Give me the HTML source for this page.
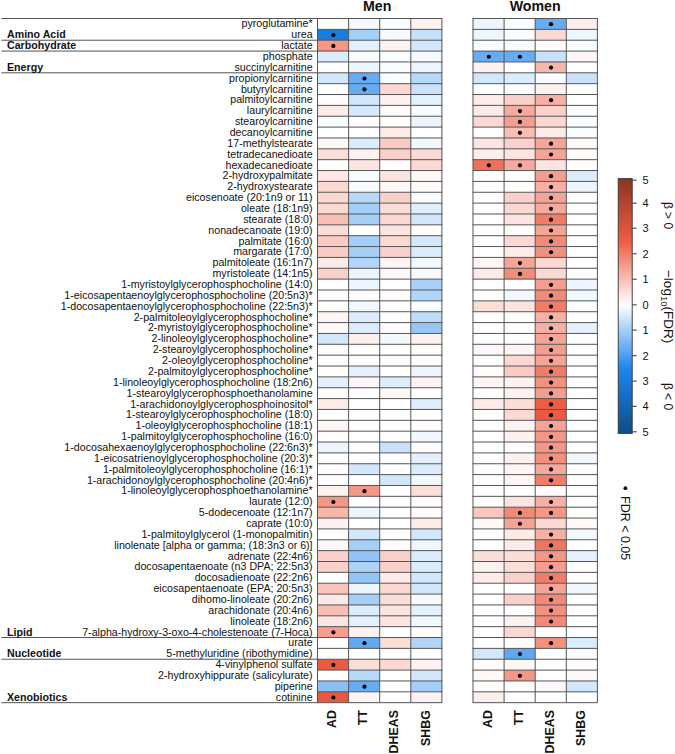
<!DOCTYPE html>
<html><head><meta charset="utf-8"><style>
html,body{margin:0;padding:0;background:#fff;width:675px;height:754px;overflow:hidden}
svg{display:block;font-family:"Liberation Sans",sans-serif;fill:#000}
text{fill:#111}
</style></head><body>
<svg width="675" height="754" viewBox="0 0 675 754">
<rect x="317.50" y="18.50" width="31.10" height="10.86" fill="#ffffff"/>
<rect x="348.60" y="18.50" width="31.10" height="10.86" fill="#f6fafe"/>
<rect x="379.70" y="18.50" width="31.10" height="10.86" fill="#fafdff"/>
<rect x="410.80" y="18.50" width="31.10" height="10.86" fill="#fef2f0"/>
<rect x="473.00" y="18.50" width="31.10" height="10.86" fill="#edf5fe"/>
<rect x="504.10" y="18.50" width="31.10" height="10.86" fill="#fafdff"/>
<rect x="535.20" y="18.50" width="31.10" height="10.86" fill="#65adf3"/>
<rect x="566.30" y="18.50" width="31.10" height="10.86" fill="#fdefec"/>
<rect x="317.50" y="29.36" width="31.10" height="10.86" fill="#1a7dde"/>
<rect x="348.60" y="29.36" width="31.10" height="10.86" fill="#a4cff8"/>
<rect x="379.70" y="29.36" width="31.10" height="10.86" fill="#f6fafe"/>
<rect x="410.80" y="29.36" width="31.10" height="10.86" fill="#c4e0fb"/>
<rect x="473.00" y="29.36" width="31.10" height="10.86" fill="#edf5fe"/>
<rect x="504.10" y="29.36" width="31.10" height="10.86" fill="#fafdff"/>
<rect x="535.20" y="29.36" width="31.10" height="10.86" fill="#fbd8d2"/>
<rect x="566.30" y="29.36" width="31.10" height="10.86" fill="#edf5fe"/>
<rect x="317.50" y="40.22" width="31.10" height="10.86" fill="#f49786"/>
<rect x="348.60" y="40.22" width="31.10" height="10.86" fill="#e4f0fd"/>
<rect x="379.70" y="40.22" width="31.10" height="10.86" fill="#fef2f0"/>
<rect x="410.80" y="40.22" width="31.10" height="10.86" fill="#d2e7fc"/>
<rect x="473.00" y="40.22" width="31.10" height="10.86" fill="#fafdff"/>
<rect x="504.10" y="40.22" width="31.10" height="10.86" fill="#fafdff"/>
<rect x="535.20" y="40.22" width="31.10" height="10.86" fill="#fffcfb"/>
<rect x="566.30" y="40.22" width="31.10" height="10.86" fill="#fafdff"/>
<rect x="317.50" y="51.08" width="31.10" height="10.86" fill="#dbecfc"/>
<rect x="348.60" y="51.08" width="31.10" height="10.86" fill="#fafdff"/>
<rect x="379.70" y="51.08" width="31.10" height="10.86" fill="#fafdff"/>
<rect x="410.80" y="51.08" width="31.10" height="10.86" fill="#f6fafe"/>
<rect x="473.00" y="51.08" width="31.10" height="10.86" fill="#65adf3"/>
<rect x="504.10" y="51.08" width="31.10" height="10.86" fill="#65adf3"/>
<rect x="535.20" y="51.08" width="31.10" height="10.86" fill="#c9e2fb"/>
<rect x="566.30" y="51.08" width="31.10" height="10.86" fill="#fef5f4"/>
<rect x="317.50" y="61.94" width="31.10" height="10.86" fill="#ffffff"/>
<rect x="348.60" y="61.94" width="31.10" height="10.86" fill="#edf5fe"/>
<rect x="379.70" y="61.94" width="31.10" height="10.86" fill="#fafdff"/>
<rect x="410.80" y="61.94" width="31.10" height="10.86" fill="#edf5fe"/>
<rect x="473.00" y="61.94" width="31.10" height="10.86" fill="#fef2f0"/>
<rect x="504.10" y="61.94" width="31.10" height="10.86" fill="#ffffff"/>
<rect x="535.20" y="61.94" width="31.10" height="10.86" fill="#f8b7ac"/>
<rect x="566.30" y="61.94" width="31.10" height="10.86" fill="#ffffff"/>
<rect x="317.50" y="72.80" width="31.10" height="10.86" fill="#d2e7fc"/>
<rect x="348.60" y="72.80" width="31.10" height="10.86" fill="#65adf3"/>
<rect x="379.70" y="72.80" width="31.10" height="10.86" fill="#fafdff"/>
<rect x="410.80" y="72.80" width="31.10" height="10.86" fill="#b6d8fa"/>
<rect x="473.00" y="72.80" width="31.10" height="10.86" fill="#d2e7fc"/>
<rect x="504.10" y="72.80" width="31.10" height="10.86" fill="#dbecfc"/>
<rect x="535.20" y="72.80" width="31.10" height="10.86" fill="#fafdff"/>
<rect x="566.30" y="72.80" width="31.10" height="10.86" fill="#c9e2fb"/>
<rect x="317.50" y="83.66" width="31.10" height="10.86" fill="#ffffff"/>
<rect x="348.60" y="83.66" width="31.10" height="10.86" fill="#65adf3"/>
<rect x="379.70" y="83.66" width="31.10" height="10.86" fill="#fbd8d2"/>
<rect x="410.80" y="83.66" width="31.10" height="10.86" fill="#c9e2fb"/>
<rect x="473.00" y="83.66" width="31.10" height="10.86" fill="#ffffff"/>
<rect x="504.10" y="83.66" width="31.10" height="10.86" fill="#fafdff"/>
<rect x="535.20" y="83.66" width="31.10" height="10.86" fill="#fef2f0"/>
<rect x="566.30" y="83.66" width="31.10" height="10.86" fill="#ffffff"/>
<rect x="317.50" y="94.52" width="31.10" height="10.86" fill="#fffcfb"/>
<rect x="348.60" y="94.52" width="31.10" height="10.86" fill="#d2e7fc"/>
<rect x="379.70" y="94.52" width="31.10" height="10.86" fill="#fef2f0"/>
<rect x="410.80" y="94.52" width="31.10" height="10.86" fill="#e4f0fd"/>
<rect x="473.00" y="94.52" width="31.10" height="10.86" fill="#fdebe8"/>
<rect x="504.10" y="94.52" width="31.10" height="10.86" fill="#fad1ca"/>
<rect x="535.20" y="94.52" width="31.10" height="10.86" fill="#f7b1a4"/>
<rect x="566.30" y="94.52" width="31.10" height="10.86" fill="#ffffff"/>
<rect x="317.50" y="105.38" width="31.10" height="10.86" fill="#fdebe8"/>
<rect x="348.60" y="105.38" width="31.10" height="10.86" fill="#d6e9fc"/>
<rect x="379.70" y="105.38" width="31.10" height="10.86" fill="#fffcfb"/>
<rect x="410.80" y="105.38" width="31.10" height="10.86" fill="#fafdff"/>
<rect x="473.00" y="105.38" width="31.10" height="10.86" fill="#fdebe8"/>
<rect x="504.10" y="105.38" width="31.10" height="10.86" fill="#f6aa9d"/>
<rect x="535.20" y="105.38" width="31.10" height="10.86" fill="#fad1ca"/>
<rect x="566.30" y="105.38" width="31.10" height="10.86" fill="#fafdff"/>
<rect x="317.50" y="116.24" width="31.10" height="10.86" fill="#fafdff"/>
<rect x="348.60" y="116.24" width="31.10" height="10.86" fill="#ffffff"/>
<rect x="379.70" y="116.24" width="31.10" height="10.86" fill="#ffffff"/>
<rect x="410.80" y="116.24" width="31.10" height="10.86" fill="#edf5fe"/>
<rect x="473.00" y="116.24" width="31.10" height="10.86" fill="#fbd8d2"/>
<rect x="504.10" y="116.24" width="31.10" height="10.86" fill="#f59d8e"/>
<rect x="535.20" y="116.24" width="31.10" height="10.86" fill="#fbd8d2"/>
<rect x="566.30" y="116.24" width="31.10" height="10.86" fill="#fafdff"/>
<rect x="317.50" y="127.10" width="31.10" height="10.86" fill="#ffffff"/>
<rect x="348.60" y="127.10" width="31.10" height="10.86" fill="#ffffff"/>
<rect x="379.70" y="127.10" width="31.10" height="10.86" fill="#fdebe8"/>
<rect x="410.80" y="127.10" width="31.10" height="10.86" fill="#ffffff"/>
<rect x="473.00" y="127.10" width="31.10" height="10.86" fill="#ffffff"/>
<rect x="504.10" y="127.10" width="31.10" height="10.86" fill="#f8beb3"/>
<rect x="535.20" y="127.10" width="31.10" height="10.86" fill="#fdebe8"/>
<rect x="566.30" y="127.10" width="31.10" height="10.86" fill="#fafdff"/>
<rect x="317.50" y="137.96" width="31.10" height="10.86" fill="#fef8f7"/>
<rect x="348.60" y="137.96" width="31.10" height="10.86" fill="#dbecfc"/>
<rect x="379.70" y="137.96" width="31.10" height="10.86" fill="#facbc3"/>
<rect x="410.80" y="137.96" width="31.10" height="10.86" fill="#f1f8fe"/>
<rect x="473.00" y="137.96" width="31.10" height="10.86" fill="#fce5e1"/>
<rect x="504.10" y="137.96" width="31.10" height="10.86" fill="#fad1ca"/>
<rect x="535.20" y="137.96" width="31.10" height="10.86" fill="#f5a495"/>
<rect x="566.30" y="137.96" width="31.10" height="10.86" fill="#fef8f7"/>
<rect x="317.50" y="148.82" width="31.10" height="10.86" fill="#fcded9"/>
<rect x="348.60" y="148.82" width="31.10" height="10.86" fill="#fef2f0"/>
<rect x="379.70" y="148.82" width="31.10" height="10.86" fill="#fad1ca"/>
<rect x="410.80" y="148.82" width="31.10" height="10.86" fill="#fbdbd5"/>
<rect x="473.00" y="148.82" width="31.10" height="10.86" fill="#fdefec"/>
<rect x="504.10" y="148.82" width="31.10" height="10.86" fill="#fce5e1"/>
<rect x="535.20" y="148.82" width="31.10" height="10.86" fill="#f5a495"/>
<rect x="566.30" y="148.82" width="31.10" height="10.86" fill="#fffcfb"/>
<rect x="317.50" y="159.68" width="31.10" height="10.86" fill="#ffffff"/>
<rect x="348.60" y="159.68" width="31.10" height="10.86" fill="#fce5e1"/>
<rect x="379.70" y="159.68" width="31.10" height="10.86" fill="#fffcfb"/>
<rect x="410.80" y="159.68" width="31.10" height="10.86" fill="#fbd8d2"/>
<rect x="473.00" y="159.68" width="31.10" height="10.86" fill="#f07059"/>
<rect x="504.10" y="159.68" width="31.10" height="10.86" fill="#f6aa9d"/>
<rect x="535.20" y="159.68" width="31.10" height="10.86" fill="#fce5e1"/>
<rect x="566.30" y="159.68" width="31.10" height="10.86" fill="#ffffff"/>
<rect x="317.50" y="170.54" width="31.10" height="10.86" fill="#fde8e5"/>
<rect x="348.60" y="170.54" width="31.10" height="10.86" fill="#fafdff"/>
<rect x="379.70" y="170.54" width="31.10" height="10.86" fill="#fce5e1"/>
<rect x="410.80" y="170.54" width="31.10" height="10.86" fill="#fef8f7"/>
<rect x="473.00" y="170.54" width="31.10" height="10.86" fill="#ffffff"/>
<rect x="504.10" y="170.54" width="31.10" height="10.86" fill="#ffffff"/>
<rect x="535.20" y="170.54" width="31.10" height="10.86" fill="#f59d8e"/>
<rect x="566.30" y="170.54" width="31.10" height="10.86" fill="#dbecfc"/>
<rect x="317.50" y="181.40" width="31.10" height="10.86" fill="#fbd8d2"/>
<rect x="348.60" y="181.40" width="31.10" height="10.86" fill="#fafdff"/>
<rect x="379.70" y="181.40" width="31.10" height="10.86" fill="#fef8f7"/>
<rect x="410.80" y="181.40" width="31.10" height="10.86" fill="#fffcfb"/>
<rect x="473.00" y="181.40" width="31.10" height="10.86" fill="#ffffff"/>
<rect x="504.10" y="181.40" width="31.10" height="10.86" fill="#ffffff"/>
<rect x="535.20" y="181.40" width="31.10" height="10.86" fill="#f7b1a4"/>
<rect x="566.30" y="181.40" width="31.10" height="10.86" fill="#edf5fe"/>
<rect x="317.50" y="192.26" width="31.10" height="10.86" fill="#fbd8d2"/>
<rect x="348.60" y="192.26" width="31.10" height="10.86" fill="#b6d8fa"/>
<rect x="379.70" y="192.26" width="31.10" height="10.86" fill="#fad1ca"/>
<rect x="410.80" y="192.26" width="31.10" height="10.86" fill="#fafdff"/>
<rect x="473.00" y="192.26" width="31.10" height="10.86" fill="#ffffff"/>
<rect x="504.10" y="192.26" width="31.10" height="10.86" fill="#fad1ca"/>
<rect x="535.20" y="192.26" width="31.10" height="10.86" fill="#f5a495"/>
<rect x="566.30" y="192.26" width="31.10" height="10.86" fill="#ffffff"/>
<rect x="317.50" y="203.12" width="31.10" height="10.86" fill="#fbd8d2"/>
<rect x="348.60" y="203.12" width="31.10" height="10.86" fill="#a4cff8"/>
<rect x="379.70" y="203.12" width="31.10" height="10.86" fill="#fcded9"/>
<rect x="410.80" y="203.12" width="31.10" height="10.86" fill="#dfeefd"/>
<rect x="473.00" y="203.12" width="31.10" height="10.86" fill="#ffffff"/>
<rect x="504.10" y="203.12" width="31.10" height="10.86" fill="#fbd8d2"/>
<rect x="535.20" y="203.12" width="31.10" height="10.86" fill="#f6aa9d"/>
<rect x="566.30" y="203.12" width="31.10" height="10.86" fill="#ffffff"/>
<rect x="317.50" y="213.98" width="31.10" height="10.86" fill="#f8beb3"/>
<rect x="348.60" y="213.98" width="31.10" height="10.86" fill="#a4cff8"/>
<rect x="379.70" y="213.98" width="31.10" height="10.86" fill="#fbd8d2"/>
<rect x="410.80" y="213.98" width="31.10" height="10.86" fill="#d2e7fc"/>
<rect x="473.00" y="213.98" width="31.10" height="10.86" fill="#ffffff"/>
<rect x="504.10" y="213.98" width="31.10" height="10.86" fill="#fce5e1"/>
<rect x="535.20" y="213.98" width="31.10" height="10.86" fill="#f17d68"/>
<rect x="566.30" y="213.98" width="31.10" height="10.86" fill="#ffffff"/>
<rect x="317.50" y="224.84" width="31.10" height="10.86" fill="#fcded9"/>
<rect x="348.60" y="224.84" width="31.10" height="10.86" fill="#ffffff"/>
<rect x="379.70" y="224.84" width="31.10" height="10.86" fill="#fce5e1"/>
<rect x="410.80" y="224.84" width="31.10" height="10.86" fill="#fffcfb"/>
<rect x="473.00" y="224.84" width="31.10" height="10.86" fill="#ffffff"/>
<rect x="504.10" y="224.84" width="31.10" height="10.86" fill="#fffcfb"/>
<rect x="535.20" y="224.84" width="31.10" height="10.86" fill="#f5a495"/>
<rect x="566.30" y="224.84" width="31.10" height="10.86" fill="#ffffff"/>
<rect x="317.50" y="235.70" width="31.10" height="10.86" fill="#facbc3"/>
<rect x="348.60" y="235.70" width="31.10" height="10.86" fill="#a4cff8"/>
<rect x="379.70" y="235.70" width="31.10" height="10.86" fill="#fbd8d2"/>
<rect x="410.80" y="235.70" width="31.10" height="10.86" fill="#d2e7fc"/>
<rect x="473.00" y="235.70" width="31.10" height="10.86" fill="#ffffff"/>
<rect x="504.10" y="235.70" width="31.10" height="10.86" fill="#fbd8d2"/>
<rect x="535.20" y="235.70" width="31.10" height="10.86" fill="#f38a77"/>
<rect x="566.30" y="235.70" width="31.10" height="10.86" fill="#ffffff"/>
<rect x="317.50" y="246.56" width="31.10" height="10.86" fill="#facbc3"/>
<rect x="348.60" y="246.56" width="31.10" height="10.86" fill="#a4cff8"/>
<rect x="379.70" y="246.56" width="31.10" height="10.86" fill="#fad1ca"/>
<rect x="410.80" y="246.56" width="31.10" height="10.86" fill="#dbecfc"/>
<rect x="473.00" y="246.56" width="31.10" height="10.86" fill="#ffffff"/>
<rect x="504.10" y="246.56" width="31.10" height="10.86" fill="#fdebe8"/>
<rect x="535.20" y="246.56" width="31.10" height="10.86" fill="#f3907e"/>
<rect x="566.30" y="246.56" width="31.10" height="10.86" fill="#ffffff"/>
<rect x="317.50" y="257.42" width="31.10" height="10.86" fill="#fdebe8"/>
<rect x="348.60" y="257.42" width="31.10" height="10.86" fill="#b2d6f9"/>
<rect x="379.70" y="257.42" width="31.10" height="10.86" fill="#fef5f4"/>
<rect x="410.80" y="257.42" width="31.10" height="10.86" fill="#f1f8fe"/>
<rect x="473.00" y="257.42" width="31.10" height="10.86" fill="#fef5f4"/>
<rect x="504.10" y="257.42" width="31.10" height="10.86" fill="#f5a495"/>
<rect x="535.20" y="257.42" width="31.10" height="10.86" fill="#fbd8d2"/>
<rect x="566.30" y="257.42" width="31.10" height="10.86" fill="#ffffff"/>
<rect x="317.50" y="268.28" width="31.10" height="10.86" fill="#fad1ca"/>
<rect x="348.60" y="268.28" width="31.10" height="10.86" fill="#edf5fe"/>
<rect x="379.70" y="268.28" width="31.10" height="10.86" fill="#fef8f7"/>
<rect x="410.80" y="268.28" width="31.10" height="10.86" fill="#f6fafe"/>
<rect x="473.00" y="268.28" width="31.10" height="10.86" fill="#fdebe8"/>
<rect x="504.10" y="268.28" width="31.10" height="10.86" fill="#f38d7b"/>
<rect x="535.20" y="268.28" width="31.10" height="10.86" fill="#fbd8d2"/>
<rect x="566.30" y="268.28" width="31.10" height="10.86" fill="#ffffff"/>
<rect x="317.50" y="279.14" width="31.10" height="10.86" fill="#ffffff"/>
<rect x="348.60" y="279.14" width="31.10" height="10.86" fill="#edf5fe"/>
<rect x="379.70" y="279.14" width="31.10" height="10.86" fill="#ffffff"/>
<rect x="410.80" y="279.14" width="31.10" height="10.86" fill="#a9d1f9"/>
<rect x="473.00" y="279.14" width="31.10" height="10.86" fill="#ffffff"/>
<rect x="504.10" y="279.14" width="31.10" height="10.86" fill="#ffffff"/>
<rect x="535.20" y="279.14" width="31.10" height="10.86" fill="#f59d8e"/>
<rect x="566.30" y="279.14" width="31.10" height="10.86" fill="#edf5fe"/>
<rect x="317.50" y="290.00" width="31.10" height="10.86" fill="#ffffff"/>
<rect x="348.60" y="290.00" width="31.10" height="10.86" fill="#ffffff"/>
<rect x="379.70" y="290.00" width="31.10" height="10.86" fill="#fffcfb"/>
<rect x="410.80" y="290.00" width="31.10" height="10.86" fill="#b2d6f9"/>
<rect x="473.00" y="290.00" width="31.10" height="10.86" fill="#ffffff"/>
<rect x="504.10" y="290.00" width="31.10" height="10.86" fill="#f1f8fe"/>
<rect x="535.20" y="290.00" width="31.10" height="10.86" fill="#f38a77"/>
<rect x="566.30" y="290.00" width="31.10" height="10.86" fill="#f1f8fe"/>
<rect x="317.50" y="300.86" width="31.10" height="10.86" fill="#ffffff"/>
<rect x="348.60" y="300.86" width="31.10" height="10.86" fill="#f1f8fe"/>
<rect x="379.70" y="300.86" width="31.10" height="10.86" fill="#ffffff"/>
<rect x="410.80" y="300.86" width="31.10" height="10.86" fill="#fafdff"/>
<rect x="473.00" y="300.86" width="31.10" height="10.86" fill="#fcded9"/>
<rect x="504.10" y="300.86" width="31.10" height="10.86" fill="#fce5e1"/>
<rect x="535.20" y="300.86" width="31.10" height="10.86" fill="#f17d68"/>
<rect x="566.30" y="300.86" width="31.10" height="10.86" fill="#ffffff"/>
<rect x="317.50" y="311.72" width="31.10" height="10.86" fill="#fef5f4"/>
<rect x="348.60" y="311.72" width="31.10" height="10.86" fill="#dbecfc"/>
<rect x="379.70" y="311.72" width="31.10" height="10.86" fill="#ffffff"/>
<rect x="410.80" y="311.72" width="31.10" height="10.86" fill="#bfddfa"/>
<rect x="473.00" y="311.72" width="31.10" height="10.86" fill="#ffffff"/>
<rect x="504.10" y="311.72" width="31.10" height="10.86" fill="#fffcfb"/>
<rect x="535.20" y="311.72" width="31.10" height="10.86" fill="#f7b1a4"/>
<rect x="566.30" y="311.72" width="31.10" height="10.86" fill="#ffffff"/>
<rect x="317.50" y="322.58" width="31.10" height="10.86" fill="#fef8f7"/>
<rect x="348.60" y="322.58" width="31.10" height="10.86" fill="#dbecfc"/>
<rect x="379.70" y="322.58" width="31.10" height="10.86" fill="#fffcfb"/>
<rect x="410.80" y="322.58" width="31.10" height="10.86" fill="#97c7f7"/>
<rect x="473.00" y="322.58" width="31.10" height="10.86" fill="#ffffff"/>
<rect x="504.10" y="322.58" width="31.10" height="10.86" fill="#ffffff"/>
<rect x="535.20" y="322.58" width="31.10" height="10.86" fill="#f7b1a4"/>
<rect x="566.30" y="322.58" width="31.10" height="10.86" fill="#e4f0fd"/>
<rect x="317.50" y="333.44" width="31.10" height="10.86" fill="#d2e7fc"/>
<rect x="348.60" y="333.44" width="31.10" height="10.86" fill="#fdefec"/>
<rect x="379.70" y="333.44" width="31.10" height="10.86" fill="#f1f8fe"/>
<rect x="410.80" y="333.44" width="31.10" height="10.86" fill="#fef2f0"/>
<rect x="473.00" y="333.44" width="31.10" height="10.86" fill="#ffffff"/>
<rect x="504.10" y="333.44" width="31.10" height="10.86" fill="#ffffff"/>
<rect x="535.20" y="333.44" width="31.10" height="10.86" fill="#f5a495"/>
<rect x="566.30" y="333.44" width="31.10" height="10.86" fill="#ffffff"/>
<rect x="317.50" y="344.30" width="31.10" height="10.86" fill="#fffcfb"/>
<rect x="348.60" y="344.30" width="31.10" height="10.86" fill="#ffffff"/>
<rect x="379.70" y="344.30" width="31.10" height="10.86" fill="#ffffff"/>
<rect x="410.80" y="344.30" width="31.10" height="10.86" fill="#fffcfb"/>
<rect x="473.00" y="344.30" width="31.10" height="10.86" fill="#fef8f7"/>
<rect x="504.10" y="344.30" width="31.10" height="10.86" fill="#fef5f4"/>
<rect x="535.20" y="344.30" width="31.10" height="10.86" fill="#f59d8e"/>
<rect x="566.30" y="344.30" width="31.10" height="10.86" fill="#ffffff"/>
<rect x="317.50" y="355.16" width="31.10" height="10.86" fill="#ffffff"/>
<rect x="348.60" y="355.16" width="31.10" height="10.86" fill="#ffffff"/>
<rect x="379.70" y="355.16" width="31.10" height="10.86" fill="#ffffff"/>
<rect x="410.80" y="355.16" width="31.10" height="10.86" fill="#ffffff"/>
<rect x="473.00" y="355.16" width="31.10" height="10.86" fill="#ffffff"/>
<rect x="504.10" y="355.16" width="31.10" height="10.86" fill="#fbd8d2"/>
<rect x="535.20" y="355.16" width="31.10" height="10.86" fill="#f5a495"/>
<rect x="566.30" y="355.16" width="31.10" height="10.86" fill="#ffffff"/>
<rect x="317.50" y="366.02" width="31.10" height="10.86" fill="#fffcfb"/>
<rect x="348.60" y="366.02" width="31.10" height="10.86" fill="#e4f0fd"/>
<rect x="379.70" y="366.02" width="31.10" height="10.86" fill="#ffffff"/>
<rect x="410.80" y="366.02" width="31.10" height="10.86" fill="#edf5fe"/>
<rect x="473.00" y="366.02" width="31.10" height="10.86" fill="#fffcfb"/>
<rect x="504.10" y="366.02" width="31.10" height="10.86" fill="#facbc3"/>
<rect x="535.20" y="366.02" width="31.10" height="10.86" fill="#f17d68"/>
<rect x="566.30" y="366.02" width="31.10" height="10.86" fill="#ffffff"/>
<rect x="317.50" y="376.88" width="31.10" height="10.86" fill="#e4f0fd"/>
<rect x="348.60" y="376.88" width="31.10" height="10.86" fill="#fef5f4"/>
<rect x="379.70" y="376.88" width="31.10" height="10.86" fill="#dfeefd"/>
<rect x="410.80" y="376.88" width="31.10" height="10.86" fill="#fef2f0"/>
<rect x="473.00" y="376.88" width="31.10" height="10.86" fill="#fef5f4"/>
<rect x="504.10" y="376.88" width="31.10" height="10.86" fill="#fef2f0"/>
<rect x="535.20" y="376.88" width="31.10" height="10.86" fill="#f3907e"/>
<rect x="566.30" y="376.88" width="31.10" height="10.86" fill="#ffffff"/>
<rect x="317.50" y="387.74" width="31.10" height="10.86" fill="#fffcfb"/>
<rect x="348.60" y="387.74" width="31.10" height="10.86" fill="#ffffff"/>
<rect x="379.70" y="387.74" width="31.10" height="10.86" fill="#fef8f7"/>
<rect x="410.80" y="387.74" width="31.10" height="10.86" fill="#ffffff"/>
<rect x="473.00" y="387.74" width="31.10" height="10.86" fill="#ffffff"/>
<rect x="504.10" y="387.74" width="31.10" height="10.86" fill="#fef2f0"/>
<rect x="535.20" y="387.74" width="31.10" height="10.86" fill="#f59d8e"/>
<rect x="566.30" y="387.74" width="31.10" height="10.86" fill="#ffffff"/>
<rect x="317.50" y="398.60" width="31.10" height="10.86" fill="#fdebe8"/>
<rect x="348.60" y="398.60" width="31.10" height="10.86" fill="#ffffff"/>
<rect x="379.70" y="398.60" width="31.10" height="10.86" fill="#ffffff"/>
<rect x="410.80" y="398.60" width="31.10" height="10.86" fill="#dfeefd"/>
<rect x="473.00" y="398.60" width="31.10" height="10.86" fill="#fdebe8"/>
<rect x="504.10" y="398.60" width="31.10" height="10.86" fill="#fcded9"/>
<rect x="535.20" y="398.60" width="31.10" height="10.86" fill="#ee5c42"/>
<rect x="566.30" y="398.60" width="31.10" height="10.86" fill="#ffffff"/>
<rect x="317.50" y="409.46" width="31.10" height="10.86" fill="#ffffff"/>
<rect x="348.60" y="409.46" width="31.10" height="10.86" fill="#ffffff"/>
<rect x="379.70" y="409.46" width="31.10" height="10.86" fill="#ffffff"/>
<rect x="410.80" y="409.46" width="31.10" height="10.86" fill="#ffffff"/>
<rect x="473.00" y="409.46" width="31.10" height="10.86" fill="#ffffff"/>
<rect x="504.10" y="409.46" width="31.10" height="10.86" fill="#fbd8d2"/>
<rect x="535.20" y="409.46" width="31.10" height="10.86" fill="#ea5a41"/>
<rect x="566.30" y="409.46" width="31.10" height="10.86" fill="#ffffff"/>
<rect x="317.50" y="420.32" width="31.10" height="10.86" fill="#fef5f4"/>
<rect x="348.60" y="420.32" width="31.10" height="10.86" fill="#ffffff"/>
<rect x="379.70" y="420.32" width="31.10" height="10.86" fill="#ffffff"/>
<rect x="410.80" y="420.32" width="31.10" height="10.86" fill="#fffcfb"/>
<rect x="473.00" y="420.32" width="31.10" height="10.86" fill="#ffffff"/>
<rect x="504.10" y="420.32" width="31.10" height="10.86" fill="#fef2f0"/>
<rect x="535.20" y="420.32" width="31.10" height="10.86" fill="#f5a495"/>
<rect x="566.30" y="420.32" width="31.10" height="10.86" fill="#ffffff"/>
<rect x="317.50" y="431.18" width="31.10" height="10.86" fill="#fffcfb"/>
<rect x="348.60" y="431.18" width="31.10" height="10.86" fill="#ffffff"/>
<rect x="379.70" y="431.18" width="31.10" height="10.86" fill="#ffffff"/>
<rect x="410.80" y="431.18" width="31.10" height="10.86" fill="#f1f8fe"/>
<rect x="473.00" y="431.18" width="31.10" height="10.86" fill="#ffffff"/>
<rect x="504.10" y="431.18" width="31.10" height="10.86" fill="#fef2f0"/>
<rect x="535.20" y="431.18" width="31.10" height="10.86" fill="#f49786"/>
<rect x="566.30" y="431.18" width="31.10" height="10.86" fill="#ffffff"/>
<rect x="317.50" y="442.04" width="31.10" height="10.86" fill="#edf5fe"/>
<rect x="348.60" y="442.04" width="31.10" height="10.86" fill="#ffffff"/>
<rect x="379.70" y="442.04" width="31.10" height="10.86" fill="#c9e2fb"/>
<rect x="410.80" y="442.04" width="31.10" height="10.86" fill="#ffffff"/>
<rect x="473.00" y="442.04" width="31.10" height="10.86" fill="#ffffff"/>
<rect x="504.10" y="442.04" width="31.10" height="10.86" fill="#ffffff"/>
<rect x="535.20" y="442.04" width="31.10" height="10.86" fill="#f49786"/>
<rect x="566.30" y="442.04" width="31.10" height="10.86" fill="#ffffff"/>
<rect x="317.50" y="452.90" width="31.10" height="10.86" fill="#ffffff"/>
<rect x="348.60" y="452.90" width="31.10" height="10.86" fill="#ffffff"/>
<rect x="379.70" y="452.90" width="31.10" height="10.86" fill="#ffffff"/>
<rect x="410.80" y="452.90" width="31.10" height="10.86" fill="#e4f0fd"/>
<rect x="473.00" y="452.90" width="31.10" height="10.86" fill="#ffffff"/>
<rect x="504.10" y="452.90" width="31.10" height="10.86" fill="#fef2f0"/>
<rect x="535.20" y="452.90" width="31.10" height="10.86" fill="#f3907e"/>
<rect x="566.30" y="452.90" width="31.10" height="10.86" fill="#f1f8fe"/>
<rect x="317.50" y="463.76" width="31.10" height="10.86" fill="#ffffff"/>
<rect x="348.60" y="463.76" width="31.10" height="10.86" fill="#d2e7fc"/>
<rect x="379.70" y="463.76" width="31.10" height="10.86" fill="#ffffff"/>
<rect x="410.80" y="463.76" width="31.10" height="10.86" fill="#dbecfc"/>
<rect x="473.00" y="463.76" width="31.10" height="10.86" fill="#ffffff"/>
<rect x="504.10" y="463.76" width="31.10" height="10.86" fill="#fef5f4"/>
<rect x="535.20" y="463.76" width="31.10" height="10.86" fill="#f6aa9d"/>
<rect x="566.30" y="463.76" width="31.10" height="10.86" fill="#ffffff"/>
<rect x="317.50" y="474.62" width="31.10" height="10.86" fill="#ffffff"/>
<rect x="348.60" y="474.62" width="31.10" height="10.86" fill="#ffffff"/>
<rect x="379.70" y="474.62" width="31.10" height="10.86" fill="#d2e7fc"/>
<rect x="410.80" y="474.62" width="31.10" height="10.86" fill="#f1f8fe"/>
<rect x="473.00" y="474.62" width="31.10" height="10.86" fill="#ffffff"/>
<rect x="504.10" y="474.62" width="31.10" height="10.86" fill="#fef5f4"/>
<rect x="535.20" y="474.62" width="31.10" height="10.86" fill="#f17d68"/>
<rect x="566.30" y="474.62" width="31.10" height="10.86" fill="#ffffff"/>
<rect x="317.50" y="485.48" width="31.10" height="10.86" fill="#fef2f0"/>
<rect x="348.60" y="485.48" width="31.10" height="10.86" fill="#f49786"/>
<rect x="379.70" y="485.48" width="31.10" height="10.86" fill="#ffffff"/>
<rect x="410.80" y="485.48" width="31.10" height="10.86" fill="#fcded9"/>
<rect x="473.00" y="485.48" width="31.10" height="10.86" fill="#ffffff"/>
<rect x="504.10" y="485.48" width="31.10" height="10.86" fill="#ffffff"/>
<rect x="535.20" y="485.48" width="31.10" height="10.86" fill="#fffcfb"/>
<rect x="566.30" y="485.48" width="31.10" height="10.86" fill="#ffffff"/>
<rect x="317.50" y="496.34" width="31.10" height="10.86" fill="#f49786"/>
<rect x="348.60" y="496.34" width="31.10" height="10.86" fill="#ffffff"/>
<rect x="379.70" y="496.34" width="31.10" height="10.86" fill="#ffffff"/>
<rect x="410.80" y="496.34" width="31.10" height="10.86" fill="#fffcfb"/>
<rect x="473.00" y="496.34" width="31.10" height="10.86" fill="#fffcfb"/>
<rect x="504.10" y="496.34" width="31.10" height="10.86" fill="#fce5e1"/>
<rect x="535.20" y="496.34" width="31.10" height="10.86" fill="#f7b1a4"/>
<rect x="566.30" y="496.34" width="31.10" height="10.86" fill="#ffffff"/>
<rect x="317.50" y="507.20" width="31.10" height="10.86" fill="#f8b7ac"/>
<rect x="348.60" y="507.20" width="31.10" height="10.86" fill="#edf5fe"/>
<rect x="379.70" y="507.20" width="31.10" height="10.86" fill="#ffffff"/>
<rect x="410.80" y="507.20" width="31.10" height="10.86" fill="#fffcfb"/>
<rect x="473.00" y="507.20" width="31.10" height="10.86" fill="#f9c8bf"/>
<rect x="504.10" y="507.20" width="31.10" height="10.86" fill="#f38a77"/>
<rect x="535.20" y="507.20" width="31.10" height="10.86" fill="#f49786"/>
<rect x="566.30" y="507.20" width="31.10" height="10.86" fill="#ffffff"/>
<rect x="317.50" y="518.06" width="31.10" height="10.86" fill="#fef2f0"/>
<rect x="348.60" y="518.06" width="31.10" height="10.86" fill="#ffffff"/>
<rect x="379.70" y="518.06" width="31.10" height="10.86" fill="#ffffff"/>
<rect x="410.80" y="518.06" width="31.10" height="10.86" fill="#fdebe8"/>
<rect x="473.00" y="518.06" width="31.10" height="10.86" fill="#fef8f7"/>
<rect x="504.10" y="518.06" width="31.10" height="10.86" fill="#f5a495"/>
<rect x="535.20" y="518.06" width="31.10" height="10.86" fill="#fbd8d2"/>
<rect x="566.30" y="518.06" width="31.10" height="10.86" fill="#fef8f7"/>
<rect x="317.50" y="528.92" width="31.10" height="10.86" fill="#ffffff"/>
<rect x="348.60" y="528.92" width="31.10" height="10.86" fill="#d2e7fc"/>
<rect x="379.70" y="528.92" width="31.10" height="10.86" fill="#ffffff"/>
<rect x="410.80" y="528.92" width="31.10" height="10.86" fill="#d2e7fc"/>
<rect x="473.00" y="528.92" width="31.10" height="10.86" fill="#ffffff"/>
<rect x="504.10" y="528.92" width="31.10" height="10.86" fill="#fdebe8"/>
<rect x="535.20" y="528.92" width="31.10" height="10.86" fill="#f7b1a4"/>
<rect x="566.30" y="528.92" width="31.10" height="10.86" fill="#f1f8fe"/>
<rect x="317.50" y="539.78" width="31.10" height="10.86" fill="#fef8f7"/>
<rect x="348.60" y="539.78" width="31.10" height="10.86" fill="#a4cff8"/>
<rect x="379.70" y="539.78" width="31.10" height="10.86" fill="#fffcfb"/>
<rect x="410.80" y="539.78" width="31.10" height="10.86" fill="#edf5fe"/>
<rect x="473.00" y="539.78" width="31.10" height="10.86" fill="#ffffff"/>
<rect x="504.10" y="539.78" width="31.10" height="10.86" fill="#fdebe8"/>
<rect x="535.20" y="539.78" width="31.10" height="10.86" fill="#f17660"/>
<rect x="566.30" y="539.78" width="31.10" height="10.86" fill="#ffffff"/>
<rect x="317.50" y="550.64" width="31.10" height="10.86" fill="#fad1ca"/>
<rect x="348.60" y="550.64" width="31.10" height="10.86" fill="#92c5f7"/>
<rect x="379.70" y="550.64" width="31.10" height="10.86" fill="#fad1ca"/>
<rect x="410.80" y="550.64" width="31.10" height="10.86" fill="#dbecfc"/>
<rect x="473.00" y="550.64" width="31.10" height="10.86" fill="#fcded9"/>
<rect x="504.10" y="550.64" width="31.10" height="10.86" fill="#fcded9"/>
<rect x="535.20" y="550.64" width="31.10" height="10.86" fill="#f49786"/>
<rect x="566.30" y="550.64" width="31.10" height="10.86" fill="#e4f0fd"/>
<rect x="317.50" y="561.50" width="31.10" height="10.86" fill="#fad1ca"/>
<rect x="348.60" y="561.50" width="31.10" height="10.86" fill="#add3f9"/>
<rect x="379.70" y="561.50" width="31.10" height="10.86" fill="#fad1ca"/>
<rect x="410.80" y="561.50" width="31.10" height="10.86" fill="#dbecfc"/>
<rect x="473.00" y="561.50" width="31.10" height="10.86" fill="#fef2f0"/>
<rect x="504.10" y="561.50" width="31.10" height="10.86" fill="#fcded9"/>
<rect x="535.20" y="561.50" width="31.10" height="10.86" fill="#f59d8e"/>
<rect x="566.30" y="561.50" width="31.10" height="10.86" fill="#ffffff"/>
<rect x="317.50" y="572.36" width="31.10" height="10.86" fill="#ffffff"/>
<rect x="348.60" y="572.36" width="31.10" height="10.86" fill="#92c5f7"/>
<rect x="379.70" y="572.36" width="31.10" height="10.86" fill="#fdebe8"/>
<rect x="410.80" y="572.36" width="31.10" height="10.86" fill="#d2e7fc"/>
<rect x="473.00" y="572.36" width="31.10" height="10.86" fill="#fdebe8"/>
<rect x="504.10" y="572.36" width="31.10" height="10.86" fill="#fad1ca"/>
<rect x="535.20" y="572.36" width="31.10" height="10.86" fill="#f17d68"/>
<rect x="566.30" y="572.36" width="31.10" height="10.86" fill="#ffffff"/>
<rect x="317.50" y="583.22" width="31.10" height="10.86" fill="#f9c4bb"/>
<rect x="348.60" y="583.22" width="31.10" height="10.86" fill="#edf5fe"/>
<rect x="379.70" y="583.22" width="31.10" height="10.86" fill="#fbd8d2"/>
<rect x="410.80" y="583.22" width="31.10" height="10.86" fill="#d2e7fc"/>
<rect x="473.00" y="583.22" width="31.10" height="10.86" fill="#ffffff"/>
<rect x="504.10" y="583.22" width="31.10" height="10.86" fill="#ffffff"/>
<rect x="535.20" y="583.22" width="31.10" height="10.86" fill="#f5a495"/>
<rect x="566.30" y="583.22" width="31.10" height="10.86" fill="#f1f8fe"/>
<rect x="317.50" y="594.08" width="31.10" height="10.86" fill="#fde8e5"/>
<rect x="348.60" y="594.08" width="31.10" height="10.86" fill="#a4cff8"/>
<rect x="379.70" y="594.08" width="31.10" height="10.86" fill="#fcded9"/>
<rect x="410.80" y="594.08" width="31.10" height="10.86" fill="#f6fafe"/>
<rect x="473.00" y="594.08" width="31.10" height="10.86" fill="#ffffff"/>
<rect x="504.10" y="594.08" width="31.10" height="10.86" fill="#fad1ca"/>
<rect x="535.20" y="594.08" width="31.10" height="10.86" fill="#f38a77"/>
<rect x="566.30" y="594.08" width="31.10" height="10.86" fill="#ffffff"/>
<rect x="317.50" y="604.94" width="31.10" height="10.86" fill="#f8beb3"/>
<rect x="348.60" y="604.94" width="31.10" height="10.86" fill="#dbecfc"/>
<rect x="379.70" y="604.94" width="31.10" height="10.86" fill="#fce5e1"/>
<rect x="410.80" y="604.94" width="31.10" height="10.86" fill="#e4f0fd"/>
<rect x="473.00" y="604.94" width="31.10" height="10.86" fill="#ffffff"/>
<rect x="504.10" y="604.94" width="31.10" height="10.86" fill="#ffffff"/>
<rect x="535.20" y="604.94" width="31.10" height="10.86" fill="#f3907e"/>
<rect x="566.30" y="604.94" width="31.10" height="10.86" fill="#ffffff"/>
<rect x="317.50" y="615.80" width="31.10" height="10.86" fill="#fce5e1"/>
<rect x="348.60" y="615.80" width="31.10" height="10.86" fill="#e4f0fd"/>
<rect x="379.70" y="615.80" width="31.10" height="10.86" fill="#fce5e1"/>
<rect x="410.80" y="615.80" width="31.10" height="10.86" fill="#f1f8fe"/>
<rect x="473.00" y="615.80" width="31.10" height="10.86" fill="#ffffff"/>
<rect x="504.10" y="615.80" width="31.10" height="10.86" fill="#fef2f0"/>
<rect x="535.20" y="615.80" width="31.10" height="10.86" fill="#f38a77"/>
<rect x="566.30" y="615.80" width="31.10" height="10.86" fill="#ffffff"/>
<rect x="317.50" y="626.66" width="31.10" height="10.86" fill="#f59d8e"/>
<rect x="348.60" y="626.66" width="31.10" height="10.86" fill="#fef2f0"/>
<rect x="379.70" y="626.66" width="31.10" height="10.86" fill="#ffffff"/>
<rect x="410.80" y="626.66" width="31.10" height="10.86" fill="#fffcfb"/>
<rect x="473.00" y="626.66" width="31.10" height="10.86" fill="#ffffff"/>
<rect x="504.10" y="626.66" width="31.10" height="10.86" fill="#fbd8d2"/>
<rect x="535.20" y="626.66" width="31.10" height="10.86" fill="#ffffff"/>
<rect x="566.30" y="626.66" width="31.10" height="10.86" fill="#ffffff"/>
<rect x="317.50" y="637.52" width="31.10" height="10.86" fill="#ffffff"/>
<rect x="348.60" y="637.52" width="31.10" height="10.86" fill="#60aaf3"/>
<rect x="379.70" y="637.52" width="31.10" height="10.86" fill="#fcded9"/>
<rect x="410.80" y="637.52" width="31.10" height="10.86" fill="#b2d6f9"/>
<rect x="473.00" y="637.52" width="31.10" height="10.86" fill="#ffffff"/>
<rect x="504.10" y="637.52" width="31.10" height="10.86" fill="#ffffff"/>
<rect x="535.20" y="637.52" width="31.10" height="10.86" fill="#f3907e"/>
<rect x="566.30" y="637.52" width="31.10" height="10.86" fill="#dbecfc"/>
<rect x="317.50" y="648.38" width="31.10" height="10.86" fill="#ffffff"/>
<rect x="348.60" y="648.38" width="31.10" height="10.86" fill="#ffffff"/>
<rect x="379.70" y="648.38" width="31.10" height="10.86" fill="#ffffff"/>
<rect x="410.80" y="648.38" width="31.10" height="10.86" fill="#ffffff"/>
<rect x="473.00" y="648.38" width="31.10" height="10.86" fill="#d2e7fc"/>
<rect x="504.10" y="648.38" width="31.10" height="10.86" fill="#5ca8f3"/>
<rect x="535.20" y="648.38" width="31.10" height="10.86" fill="#ffffff"/>
<rect x="566.30" y="648.38" width="31.10" height="10.86" fill="#fafdff"/>
<rect x="317.50" y="659.24" width="31.10" height="10.86" fill="#ec5b41"/>
<rect x="348.60" y="659.24" width="31.10" height="10.86" fill="#fcded9"/>
<rect x="379.70" y="659.24" width="31.10" height="10.86" fill="#fbd8d2"/>
<rect x="410.80" y="659.24" width="31.10" height="10.86" fill="#fef2f0"/>
<rect x="473.00" y="659.24" width="31.10" height="10.86" fill="#fffcfb"/>
<rect x="504.10" y="659.24" width="31.10" height="10.86" fill="#fef8f7"/>
<rect x="535.20" y="659.24" width="31.10" height="10.86" fill="#ffffff"/>
<rect x="566.30" y="659.24" width="31.10" height="10.86" fill="#fffcfb"/>
<rect x="317.50" y="670.10" width="31.10" height="10.86" fill="#ffffff"/>
<rect x="348.60" y="670.10" width="31.10" height="10.86" fill="#b6d8fa"/>
<rect x="379.70" y="670.10" width="31.10" height="10.86" fill="#ffffff"/>
<rect x="410.80" y="670.10" width="31.10" height="10.86" fill="#d2e7fc"/>
<rect x="473.00" y="670.10" width="31.10" height="10.86" fill="#fef8f7"/>
<rect x="504.10" y="670.10" width="31.10" height="10.86" fill="#f49786"/>
<rect x="535.20" y="670.10" width="31.10" height="10.86" fill="#ffffff"/>
<rect x="566.30" y="670.10" width="31.10" height="10.86" fill="#fef8f7"/>
<rect x="317.50" y="680.96" width="31.10" height="10.86" fill="#89c0f6"/>
<rect x="348.60" y="680.96" width="31.10" height="10.86" fill="#65adf3"/>
<rect x="379.70" y="680.96" width="31.10" height="10.86" fill="#ffffff"/>
<rect x="410.80" y="680.96" width="31.10" height="10.86" fill="#a4cff8"/>
<rect x="473.00" y="680.96" width="31.10" height="10.86" fill="#ffffff"/>
<rect x="504.10" y="680.96" width="31.10" height="10.86" fill="#ffffff"/>
<rect x="535.20" y="680.96" width="31.10" height="10.86" fill="#fef8f7"/>
<rect x="566.30" y="680.96" width="31.10" height="10.86" fill="#d2e7fc"/>
<rect x="317.50" y="691.82" width="31.10" height="10.86" fill="#e65940"/>
<rect x="348.60" y="691.82" width="31.10" height="10.86" fill="#fef5f4"/>
<rect x="379.70" y="691.82" width="31.10" height="10.86" fill="#ffffff"/>
<rect x="410.80" y="691.82" width="31.10" height="10.86" fill="#fef2f0"/>
<rect x="473.00" y="691.82" width="31.10" height="10.86" fill="#fdefec"/>
<rect x="504.10" y="691.82" width="31.10" height="10.86" fill="#ffffff"/>
<rect x="535.20" y="691.82" width="31.10" height="10.86" fill="#ffffff"/>
<rect x="566.30" y="691.82" width="31.10" height="10.86" fill="#ffffff"/>
<circle cx="551.05" cy="24.18" r="2.1" fill="#000"/>
<circle cx="333.35" cy="35.04" r="2.1" fill="#000"/>
<circle cx="333.35" cy="45.90" r="2.1" fill="#000"/>
<circle cx="488.85" cy="56.76" r="2.1" fill="#000"/>
<circle cx="519.95" cy="56.76" r="2.1" fill="#000"/>
<circle cx="551.05" cy="67.62" r="2.1" fill="#000"/>
<circle cx="364.45" cy="78.48" r="2.1" fill="#000"/>
<circle cx="364.45" cy="89.34" r="2.1" fill="#000"/>
<circle cx="551.05" cy="100.20" r="2.1" fill="#000"/>
<circle cx="519.95" cy="111.06" r="2.1" fill="#000"/>
<circle cx="519.95" cy="121.92" r="2.1" fill="#000"/>
<circle cx="519.95" cy="132.78" r="2.1" fill="#000"/>
<circle cx="551.05" cy="143.64" r="2.1" fill="#000"/>
<circle cx="551.05" cy="154.50" r="2.1" fill="#000"/>
<circle cx="488.85" cy="165.36" r="2.1" fill="#000"/>
<circle cx="519.95" cy="165.36" r="2.1" fill="#000"/>
<circle cx="551.05" cy="176.22" r="2.1" fill="#000"/>
<circle cx="551.05" cy="187.08" r="2.1" fill="#000"/>
<circle cx="551.05" cy="197.94" r="2.1" fill="#000"/>
<circle cx="551.05" cy="208.80" r="2.1" fill="#000"/>
<circle cx="551.05" cy="219.66" r="2.1" fill="#000"/>
<circle cx="551.05" cy="230.52" r="2.1" fill="#000"/>
<circle cx="551.05" cy="241.38" r="2.1" fill="#000"/>
<circle cx="551.05" cy="252.24" r="2.1" fill="#000"/>
<circle cx="519.95" cy="263.10" r="2.1" fill="#000"/>
<circle cx="519.95" cy="273.96" r="2.1" fill="#000"/>
<circle cx="551.05" cy="284.82" r="2.1" fill="#000"/>
<circle cx="551.05" cy="295.68" r="2.1" fill="#000"/>
<circle cx="551.05" cy="306.54" r="2.1" fill="#000"/>
<circle cx="551.05" cy="317.40" r="2.1" fill="#000"/>
<circle cx="551.05" cy="328.26" r="2.1" fill="#000"/>
<circle cx="551.05" cy="339.12" r="2.1" fill="#000"/>
<circle cx="551.05" cy="349.98" r="2.1" fill="#000"/>
<circle cx="551.05" cy="360.84" r="2.1" fill="#000"/>
<circle cx="551.05" cy="371.70" r="2.1" fill="#000"/>
<circle cx="551.05" cy="382.56" r="2.1" fill="#000"/>
<circle cx="551.05" cy="393.42" r="2.1" fill="#000"/>
<circle cx="551.05" cy="404.28" r="2.1" fill="#000"/>
<circle cx="551.05" cy="415.14" r="2.1" fill="#000"/>
<circle cx="551.05" cy="426.00" r="2.1" fill="#000"/>
<circle cx="551.05" cy="436.86" r="2.1" fill="#000"/>
<circle cx="551.05" cy="447.72" r="2.1" fill="#000"/>
<circle cx="551.05" cy="458.58" r="2.1" fill="#000"/>
<circle cx="551.05" cy="469.44" r="2.1" fill="#000"/>
<circle cx="551.05" cy="480.30" r="2.1" fill="#000"/>
<circle cx="364.45" cy="491.16" r="2.1" fill="#000"/>
<circle cx="333.35" cy="502.02" r="2.1" fill="#000"/>
<circle cx="551.05" cy="502.02" r="2.1" fill="#000"/>
<circle cx="519.95" cy="512.88" r="2.1" fill="#000"/>
<circle cx="551.05" cy="512.88" r="2.1" fill="#000"/>
<circle cx="519.95" cy="523.74" r="2.1" fill="#000"/>
<circle cx="551.05" cy="534.60" r="2.1" fill="#000"/>
<circle cx="551.05" cy="545.46" r="2.1" fill="#000"/>
<circle cx="551.05" cy="556.32" r="2.1" fill="#000"/>
<circle cx="551.05" cy="567.18" r="2.1" fill="#000"/>
<circle cx="551.05" cy="578.04" r="2.1" fill="#000"/>
<circle cx="551.05" cy="588.90" r="2.1" fill="#000"/>
<circle cx="551.05" cy="599.76" r="2.1" fill="#000"/>
<circle cx="551.05" cy="610.62" r="2.1" fill="#000"/>
<circle cx="551.05" cy="621.48" r="2.1" fill="#000"/>
<circle cx="333.35" cy="632.34" r="2.1" fill="#000"/>
<circle cx="364.45" cy="643.20" r="2.1" fill="#000"/>
<circle cx="551.05" cy="643.20" r="2.1" fill="#000"/>
<circle cx="519.95" cy="654.06" r="2.1" fill="#000"/>
<circle cx="333.35" cy="664.92" r="2.1" fill="#000"/>
<circle cx="519.95" cy="675.78" r="2.1" fill="#000"/>
<circle cx="364.45" cy="686.64" r="2.1" fill="#000"/>
<circle cx="333.35" cy="697.50" r="2.1" fill="#000"/>
<line x1="317.00" y1="18.50" x2="442.40" y2="18.50" stroke="#555555" stroke-width="1"/>
<line x1="317.00" y1="29.36" x2="442.40" y2="29.36" stroke="#555555" stroke-width="1"/>
<line x1="317.00" y1="40.22" x2="442.40" y2="40.22" stroke="#555555" stroke-width="1"/>
<line x1="317.00" y1="51.08" x2="442.40" y2="51.08" stroke="#555555" stroke-width="1"/>
<line x1="317.00" y1="61.94" x2="442.40" y2="61.94" stroke="#555555" stroke-width="1"/>
<line x1="317.00" y1="72.80" x2="442.40" y2="72.80" stroke="#555555" stroke-width="1"/>
<line x1="317.00" y1="83.66" x2="442.40" y2="83.66" stroke="#555555" stroke-width="1"/>
<line x1="317.00" y1="94.52" x2="442.40" y2="94.52" stroke="#555555" stroke-width="1"/>
<line x1="317.00" y1="105.38" x2="442.40" y2="105.38" stroke="#555555" stroke-width="1"/>
<line x1="317.00" y1="116.24" x2="442.40" y2="116.24" stroke="#555555" stroke-width="1"/>
<line x1="317.00" y1="127.10" x2="442.40" y2="127.10" stroke="#555555" stroke-width="1"/>
<line x1="317.00" y1="137.96" x2="442.40" y2="137.96" stroke="#555555" stroke-width="1"/>
<line x1="317.00" y1="148.82" x2="442.40" y2="148.82" stroke="#555555" stroke-width="1"/>
<line x1="317.00" y1="159.68" x2="442.40" y2="159.68" stroke="#555555" stroke-width="1"/>
<line x1="317.00" y1="170.54" x2="442.40" y2="170.54" stroke="#555555" stroke-width="1"/>
<line x1="317.00" y1="181.40" x2="442.40" y2="181.40" stroke="#555555" stroke-width="1"/>
<line x1="317.00" y1="192.26" x2="442.40" y2="192.26" stroke="#555555" stroke-width="1"/>
<line x1="317.00" y1="203.12" x2="442.40" y2="203.12" stroke="#555555" stroke-width="1"/>
<line x1="317.00" y1="213.98" x2="442.40" y2="213.98" stroke="#555555" stroke-width="1"/>
<line x1="317.00" y1="224.84" x2="442.40" y2="224.84" stroke="#555555" stroke-width="1"/>
<line x1="317.00" y1="235.70" x2="442.40" y2="235.70" stroke="#555555" stroke-width="1"/>
<line x1="317.00" y1="246.56" x2="442.40" y2="246.56" stroke="#555555" stroke-width="1"/>
<line x1="317.00" y1="257.42" x2="442.40" y2="257.42" stroke="#555555" stroke-width="1"/>
<line x1="317.00" y1="268.28" x2="442.40" y2="268.28" stroke="#555555" stroke-width="1"/>
<line x1="317.00" y1="279.14" x2="442.40" y2="279.14" stroke="#555555" stroke-width="1"/>
<line x1="317.00" y1="290.00" x2="442.40" y2="290.00" stroke="#555555" stroke-width="1"/>
<line x1="317.00" y1="300.86" x2="442.40" y2="300.86" stroke="#555555" stroke-width="1"/>
<line x1="317.00" y1="311.72" x2="442.40" y2="311.72" stroke="#555555" stroke-width="1"/>
<line x1="317.00" y1="322.58" x2="442.40" y2="322.58" stroke="#555555" stroke-width="1"/>
<line x1="317.00" y1="333.44" x2="442.40" y2="333.44" stroke="#555555" stroke-width="1"/>
<line x1="317.00" y1="344.30" x2="442.40" y2="344.30" stroke="#555555" stroke-width="1"/>
<line x1="317.00" y1="355.16" x2="442.40" y2="355.16" stroke="#555555" stroke-width="1"/>
<line x1="317.00" y1="366.02" x2="442.40" y2="366.02" stroke="#555555" stroke-width="1"/>
<line x1="317.00" y1="376.88" x2="442.40" y2="376.88" stroke="#555555" stroke-width="1"/>
<line x1="317.00" y1="387.74" x2="442.40" y2="387.74" stroke="#555555" stroke-width="1"/>
<line x1="317.00" y1="398.60" x2="442.40" y2="398.60" stroke="#555555" stroke-width="1"/>
<line x1="317.00" y1="409.46" x2="442.40" y2="409.46" stroke="#555555" stroke-width="1"/>
<line x1="317.00" y1="420.32" x2="442.40" y2="420.32" stroke="#555555" stroke-width="1"/>
<line x1="317.00" y1="431.18" x2="442.40" y2="431.18" stroke="#555555" stroke-width="1"/>
<line x1="317.00" y1="442.04" x2="442.40" y2="442.04" stroke="#555555" stroke-width="1"/>
<line x1="317.00" y1="452.90" x2="442.40" y2="452.90" stroke="#555555" stroke-width="1"/>
<line x1="317.00" y1="463.76" x2="442.40" y2="463.76" stroke="#555555" stroke-width="1"/>
<line x1="317.00" y1="474.62" x2="442.40" y2="474.62" stroke="#555555" stroke-width="1"/>
<line x1="317.00" y1="485.48" x2="442.40" y2="485.48" stroke="#555555" stroke-width="1"/>
<line x1="317.00" y1="496.34" x2="442.40" y2="496.34" stroke="#555555" stroke-width="1"/>
<line x1="317.00" y1="507.20" x2="442.40" y2="507.20" stroke="#555555" stroke-width="1"/>
<line x1="317.00" y1="518.06" x2="442.40" y2="518.06" stroke="#555555" stroke-width="1"/>
<line x1="317.00" y1="528.92" x2="442.40" y2="528.92" stroke="#555555" stroke-width="1"/>
<line x1="317.00" y1="539.78" x2="442.40" y2="539.78" stroke="#555555" stroke-width="1"/>
<line x1="317.00" y1="550.64" x2="442.40" y2="550.64" stroke="#555555" stroke-width="1"/>
<line x1="317.00" y1="561.50" x2="442.40" y2="561.50" stroke="#555555" stroke-width="1"/>
<line x1="317.00" y1="572.36" x2="442.40" y2="572.36" stroke="#555555" stroke-width="1"/>
<line x1="317.00" y1="583.22" x2="442.40" y2="583.22" stroke="#555555" stroke-width="1"/>
<line x1="317.00" y1="594.08" x2="442.40" y2="594.08" stroke="#555555" stroke-width="1"/>
<line x1="317.00" y1="604.94" x2="442.40" y2="604.94" stroke="#555555" stroke-width="1"/>
<line x1="317.00" y1="615.80" x2="442.40" y2="615.80" stroke="#555555" stroke-width="1"/>
<line x1="317.00" y1="626.66" x2="442.40" y2="626.66" stroke="#555555" stroke-width="1"/>
<line x1="317.00" y1="637.52" x2="442.40" y2="637.52" stroke="#555555" stroke-width="1"/>
<line x1="317.00" y1="648.38" x2="442.40" y2="648.38" stroke="#555555" stroke-width="1"/>
<line x1="317.00" y1="659.24" x2="442.40" y2="659.24" stroke="#555555" stroke-width="1"/>
<line x1="317.00" y1="670.10" x2="442.40" y2="670.10" stroke="#555555" stroke-width="1"/>
<line x1="317.00" y1="680.96" x2="442.40" y2="680.96" stroke="#555555" stroke-width="1"/>
<line x1="317.00" y1="691.82" x2="442.40" y2="691.82" stroke="#555555" stroke-width="1"/>
<line x1="317.00" y1="702.68" x2="442.40" y2="702.68" stroke="#555555" stroke-width="1"/>
<line x1="317.50" y1="18.50" x2="317.50" y2="702.68" stroke="#555555" stroke-width="1"/>
<line x1="348.60" y1="18.50" x2="348.60" y2="702.68" stroke="#555555" stroke-width="1"/>
<line x1="379.70" y1="18.50" x2="379.70" y2="702.68" stroke="#555555" stroke-width="1"/>
<line x1="410.80" y1="18.50" x2="410.80" y2="702.68" stroke="#555555" stroke-width="1"/>
<line x1="441.90" y1="18.50" x2="441.90" y2="702.68" stroke="#555555" stroke-width="1"/>
<line x1="472.50" y1="18.50" x2="597.90" y2="18.50" stroke="#555555" stroke-width="1"/>
<line x1="472.50" y1="29.36" x2="597.90" y2="29.36" stroke="#555555" stroke-width="1"/>
<line x1="472.50" y1="40.22" x2="597.90" y2="40.22" stroke="#555555" stroke-width="1"/>
<line x1="472.50" y1="51.08" x2="597.90" y2="51.08" stroke="#555555" stroke-width="1"/>
<line x1="472.50" y1="61.94" x2="597.90" y2="61.94" stroke="#555555" stroke-width="1"/>
<line x1="472.50" y1="72.80" x2="597.90" y2="72.80" stroke="#555555" stroke-width="1"/>
<line x1="472.50" y1="83.66" x2="597.90" y2="83.66" stroke="#555555" stroke-width="1"/>
<line x1="472.50" y1="94.52" x2="597.90" y2="94.52" stroke="#555555" stroke-width="1"/>
<line x1="472.50" y1="105.38" x2="597.90" y2="105.38" stroke="#555555" stroke-width="1"/>
<line x1="472.50" y1="116.24" x2="597.90" y2="116.24" stroke="#555555" stroke-width="1"/>
<line x1="472.50" y1="127.10" x2="597.90" y2="127.10" stroke="#555555" stroke-width="1"/>
<line x1="472.50" y1="137.96" x2="597.90" y2="137.96" stroke="#555555" stroke-width="1"/>
<line x1="472.50" y1="148.82" x2="597.90" y2="148.82" stroke="#555555" stroke-width="1"/>
<line x1="472.50" y1="159.68" x2="597.90" y2="159.68" stroke="#555555" stroke-width="1"/>
<line x1="472.50" y1="170.54" x2="597.90" y2="170.54" stroke="#555555" stroke-width="1"/>
<line x1="472.50" y1="181.40" x2="597.90" y2="181.40" stroke="#555555" stroke-width="1"/>
<line x1="472.50" y1="192.26" x2="597.90" y2="192.26" stroke="#555555" stroke-width="1"/>
<line x1="472.50" y1="203.12" x2="597.90" y2="203.12" stroke="#555555" stroke-width="1"/>
<line x1="472.50" y1="213.98" x2="597.90" y2="213.98" stroke="#555555" stroke-width="1"/>
<line x1="472.50" y1="224.84" x2="597.90" y2="224.84" stroke="#555555" stroke-width="1"/>
<line x1="472.50" y1="235.70" x2="597.90" y2="235.70" stroke="#555555" stroke-width="1"/>
<line x1="472.50" y1="246.56" x2="597.90" y2="246.56" stroke="#555555" stroke-width="1"/>
<line x1="472.50" y1="257.42" x2="597.90" y2="257.42" stroke="#555555" stroke-width="1"/>
<line x1="472.50" y1="268.28" x2="597.90" y2="268.28" stroke="#555555" stroke-width="1"/>
<line x1="472.50" y1="279.14" x2="597.90" y2="279.14" stroke="#555555" stroke-width="1"/>
<line x1="472.50" y1="290.00" x2="597.90" y2="290.00" stroke="#555555" stroke-width="1"/>
<line x1="472.50" y1="300.86" x2="597.90" y2="300.86" stroke="#555555" stroke-width="1"/>
<line x1="472.50" y1="311.72" x2="597.90" y2="311.72" stroke="#555555" stroke-width="1"/>
<line x1="472.50" y1="322.58" x2="597.90" y2="322.58" stroke="#555555" stroke-width="1"/>
<line x1="472.50" y1="333.44" x2="597.90" y2="333.44" stroke="#555555" stroke-width="1"/>
<line x1="472.50" y1="344.30" x2="597.90" y2="344.30" stroke="#555555" stroke-width="1"/>
<line x1="472.50" y1="355.16" x2="597.90" y2="355.16" stroke="#555555" stroke-width="1"/>
<line x1="472.50" y1="366.02" x2="597.90" y2="366.02" stroke="#555555" stroke-width="1"/>
<line x1="472.50" y1="376.88" x2="597.90" y2="376.88" stroke="#555555" stroke-width="1"/>
<line x1="472.50" y1="387.74" x2="597.90" y2="387.74" stroke="#555555" stroke-width="1"/>
<line x1="472.50" y1="398.60" x2="597.90" y2="398.60" stroke="#555555" stroke-width="1"/>
<line x1="472.50" y1="409.46" x2="597.90" y2="409.46" stroke="#555555" stroke-width="1"/>
<line x1="472.50" y1="420.32" x2="597.90" y2="420.32" stroke="#555555" stroke-width="1"/>
<line x1="472.50" y1="431.18" x2="597.90" y2="431.18" stroke="#555555" stroke-width="1"/>
<line x1="472.50" y1="442.04" x2="597.90" y2="442.04" stroke="#555555" stroke-width="1"/>
<line x1="472.50" y1="452.90" x2="597.90" y2="452.90" stroke="#555555" stroke-width="1"/>
<line x1="472.50" y1="463.76" x2="597.90" y2="463.76" stroke="#555555" stroke-width="1"/>
<line x1="472.50" y1="474.62" x2="597.90" y2="474.62" stroke="#555555" stroke-width="1"/>
<line x1="472.50" y1="485.48" x2="597.90" y2="485.48" stroke="#555555" stroke-width="1"/>
<line x1="472.50" y1="496.34" x2="597.90" y2="496.34" stroke="#555555" stroke-width="1"/>
<line x1="472.50" y1="507.20" x2="597.90" y2="507.20" stroke="#555555" stroke-width="1"/>
<line x1="472.50" y1="518.06" x2="597.90" y2="518.06" stroke="#555555" stroke-width="1"/>
<line x1="472.50" y1="528.92" x2="597.90" y2="528.92" stroke="#555555" stroke-width="1"/>
<line x1="472.50" y1="539.78" x2="597.90" y2="539.78" stroke="#555555" stroke-width="1"/>
<line x1="472.50" y1="550.64" x2="597.90" y2="550.64" stroke="#555555" stroke-width="1"/>
<line x1="472.50" y1="561.50" x2="597.90" y2="561.50" stroke="#555555" stroke-width="1"/>
<line x1="472.50" y1="572.36" x2="597.90" y2="572.36" stroke="#555555" stroke-width="1"/>
<line x1="472.50" y1="583.22" x2="597.90" y2="583.22" stroke="#555555" stroke-width="1"/>
<line x1="472.50" y1="594.08" x2="597.90" y2="594.08" stroke="#555555" stroke-width="1"/>
<line x1="472.50" y1="604.94" x2="597.90" y2="604.94" stroke="#555555" stroke-width="1"/>
<line x1="472.50" y1="615.80" x2="597.90" y2="615.80" stroke="#555555" stroke-width="1"/>
<line x1="472.50" y1="626.66" x2="597.90" y2="626.66" stroke="#555555" stroke-width="1"/>
<line x1="472.50" y1="637.52" x2="597.90" y2="637.52" stroke="#555555" stroke-width="1"/>
<line x1="472.50" y1="648.38" x2="597.90" y2="648.38" stroke="#555555" stroke-width="1"/>
<line x1="472.50" y1="659.24" x2="597.90" y2="659.24" stroke="#555555" stroke-width="1"/>
<line x1="472.50" y1="670.10" x2="597.90" y2="670.10" stroke="#555555" stroke-width="1"/>
<line x1="472.50" y1="680.96" x2="597.90" y2="680.96" stroke="#555555" stroke-width="1"/>
<line x1="472.50" y1="691.82" x2="597.90" y2="691.82" stroke="#555555" stroke-width="1"/>
<line x1="472.50" y1="702.68" x2="597.90" y2="702.68" stroke="#555555" stroke-width="1"/>
<line x1="473.00" y1="18.50" x2="473.00" y2="702.68" stroke="#555555" stroke-width="1"/>
<line x1="504.10" y1="18.50" x2="504.10" y2="702.68" stroke="#555555" stroke-width="1"/>
<line x1="535.20" y1="18.50" x2="535.20" y2="702.68" stroke="#555555" stroke-width="1"/>
<line x1="566.30" y1="18.50" x2="566.30" y2="702.68" stroke="#555555" stroke-width="1"/>
<line x1="597.40" y1="18.50" x2="597.40" y2="702.68" stroke="#555555" stroke-width="1"/>
<line x1="1.4" y1="18.50" x2="317.50" y2="18.50" stroke="#555555" stroke-width="1"/>
<line x1="1.4" y1="40.22" x2="317.50" y2="40.22" stroke="#555555" stroke-width="1"/>
<line x1="1.4" y1="51.08" x2="317.50" y2="51.08" stroke="#555555" stroke-width="1"/>
<line x1="1.4" y1="72.80" x2="317.50" y2="72.80" stroke="#555555" stroke-width="1"/>
<line x1="1.4" y1="637.52" x2="317.50" y2="637.52" stroke="#555555" stroke-width="1"/>
<line x1="1.4" y1="659.24" x2="317.50" y2="659.24" stroke="#555555" stroke-width="1"/>
<line x1="1.4" y1="702.68" x2="317.50" y2="702.68" stroke="#555555" stroke-width="1"/>
<text x="312.6" y="27.40" text-anchor="end" font-size="10.67">pyroglutamine*</text>
<text x="312.6" y="38.26" text-anchor="end" font-size="10.67">urea</text>
<text x="312.6" y="49.12" text-anchor="end" font-size="10.67">lactate</text>
<text x="312.6" y="59.98" text-anchor="end" font-size="10.67">phosphate</text>
<text x="312.6" y="70.84" text-anchor="end" font-size="10.67">succinylcarnitine</text>
<text x="312.6" y="81.70" text-anchor="end" font-size="10.67">propionylcarnitine</text>
<text x="312.6" y="92.56" text-anchor="end" font-size="10.67">butyrylcarnitine</text>
<text x="312.6" y="103.42" text-anchor="end" font-size="10.67">palmitoylcarnitine</text>
<text x="312.6" y="114.28" text-anchor="end" font-size="10.67">laurylcarnitine</text>
<text x="312.6" y="125.14" text-anchor="end" font-size="10.67">stearoylcarnitine</text>
<text x="312.6" y="136.00" text-anchor="end" font-size="10.67">decanoylcarnitine</text>
<text x="312.6" y="146.86" text-anchor="end" font-size="10.67">17-methylstearate</text>
<text x="312.6" y="157.72" text-anchor="end" font-size="10.67">tetradecanedioate</text>
<text x="312.6" y="168.58" text-anchor="end" font-size="10.67">hexadecanedioate</text>
<text x="312.6" y="179.44" text-anchor="end" font-size="10.67">2-hydroxypalmitate</text>
<text x="312.6" y="190.30" text-anchor="end" font-size="10.67">2-hydroxystearate</text>
<text x="312.6" y="201.16" text-anchor="end" font-size="10.67">eicosenoate (20:1n9 or 11)</text>
<text x="312.6" y="212.02" text-anchor="end" font-size="10.67">oleate (18:1n9)</text>
<text x="312.6" y="222.88" text-anchor="end" font-size="10.67">stearate (18:0)</text>
<text x="312.6" y="233.74" text-anchor="end" font-size="10.67">nonadecanoate (19:0)</text>
<text x="312.6" y="244.60" text-anchor="end" font-size="10.67">palmitate (16:0)</text>
<text x="312.6" y="255.46" text-anchor="end" font-size="10.67">margarate (17:0)</text>
<text x="312.6" y="266.32" text-anchor="end" font-size="10.67">palmitoleate (16:1n7)</text>
<text x="312.6" y="277.18" text-anchor="end" font-size="10.67">myristoleate (14:1n5)</text>
<text x="312.6" y="288.04" text-anchor="end" font-size="10.67">1-myristoylglycerophosphocholine (14:0)</text>
<text x="312.6" y="298.90" text-anchor="end" font-size="10.67">1-eicosapentaenoylglycerophosphocholine (20:5n3)*</text>
<text x="312.6" y="309.76" text-anchor="end" font-size="10.67">1-docosapentaenoylglycerophosphocholine (22:5n3)*</text>
<text x="312.6" y="320.62" text-anchor="end" font-size="10.67">2-palmitoleoylglycerophosphocholine*</text>
<text x="312.6" y="331.48" text-anchor="end" font-size="10.67">2-myristoylglycerophosphocholine*</text>
<text x="312.6" y="342.34" text-anchor="end" font-size="10.67">2-linoleoylglycerophosphocholine*</text>
<text x="312.6" y="353.20" text-anchor="end" font-size="10.67">2-stearoylglycerophosphocholine*</text>
<text x="312.6" y="364.06" text-anchor="end" font-size="10.67">2-oleoylglycerophosphocholine*</text>
<text x="312.6" y="374.92" text-anchor="end" font-size="10.67">2-palmitoylglycerophosphocholine*</text>
<text x="312.6" y="385.78" text-anchor="end" font-size="10.67">1-linoleoylglycerophosphocholine (18:2n6)</text>
<text x="312.6" y="396.64" text-anchor="end" font-size="10.67">1-stearoylglycerophosphoethanolamine</text>
<text x="312.6" y="407.50" text-anchor="end" font-size="10.67">1-arachidonoylglycerophosphoinositol*</text>
<text x="312.6" y="418.36" text-anchor="end" font-size="10.67">1-stearoylglycerophosphocholine (18:0)</text>
<text x="312.6" y="429.22" text-anchor="end" font-size="10.67">1-oleoylglycerophosphocholine (18:1)</text>
<text x="312.6" y="440.08" text-anchor="end" font-size="10.67">1-palmitoylglycerophosphocholine (16:0)</text>
<text x="312.6" y="450.94" text-anchor="end" font-size="10.67">1-docosahexaenoylglycerophosphocholine (22:6n3)*</text>
<text x="312.6" y="461.80" text-anchor="end" font-size="10.67">1-eicosatrienoylglycerophosphocholine (20:3)*</text>
<text x="312.6" y="472.66" text-anchor="end" font-size="10.67">1-palmitoleoylglycerophosphocholine (16:1)*</text>
<text x="312.6" y="483.52" text-anchor="end" font-size="10.67">1-arachidonoylglycerophosphocholine (20:4n6)*</text>
<text x="312.6" y="494.38" text-anchor="end" font-size="10.67">1-linoleoylglycerophosphoethanolamine*</text>
<text x="312.6" y="505.24" text-anchor="end" font-size="10.67">laurate (12:0)</text>
<text x="312.6" y="516.10" text-anchor="end" font-size="10.67">5-dodecenoate (12:1n7)</text>
<text x="312.6" y="526.96" text-anchor="end" font-size="10.67">caprate (10:0)</text>
<text x="312.6" y="537.82" text-anchor="end" font-size="10.67">1-palmitoylglycerol (1-monopalmitin)</text>
<text x="312.6" y="548.68" text-anchor="end" font-size="10.67">linolenate [alpha or gamma; (18:3n3 or 6)]</text>
<text x="312.6" y="559.54" text-anchor="end" font-size="10.67">adrenate (22:4n6)</text>
<text x="312.6" y="570.40" text-anchor="end" font-size="10.67">docosapentaenoate (n3 DPA; 22:5n3)</text>
<text x="312.6" y="581.26" text-anchor="end" font-size="10.67">docosadienoate (22:2n6)</text>
<text x="312.6" y="592.12" text-anchor="end" font-size="10.67">eicosapentaenoate (EPA; 20:5n3)</text>
<text x="312.6" y="602.98" text-anchor="end" font-size="10.67">dihomo-linoleate (20:2n6)</text>
<text x="312.6" y="613.84" text-anchor="end" font-size="10.67">arachidonate (20:4n6)</text>
<text x="312.6" y="624.70" text-anchor="end" font-size="10.67">linoleate (18:2n6)</text>
<text x="312.6" y="635.56" text-anchor="end" font-size="10.67">7-alpha-hydroxy-3-oxo-4-cholestenoate (7-Hoca)</text>
<text x="312.6" y="646.42" text-anchor="end" font-size="10.67">urate</text>
<text x="312.6" y="657.28" text-anchor="end" font-size="10.67">5-methyluridine (ribothymidine)</text>
<text x="312.6" y="668.14" text-anchor="end" font-size="10.67">4-vinylphenol sulfate</text>
<text x="312.6" y="679.00" text-anchor="end" font-size="10.67">2-hydroxyhippurate (salicylurate)</text>
<text x="312.6" y="689.86" text-anchor="end" font-size="10.67">piperine</text>
<text x="312.6" y="700.72" text-anchor="end" font-size="10.67">cotinine</text>
<text x="7.0" y="38.46" font-size="10.65" font-weight="bold">Amino Acid</text>
<text x="7.0" y="49.32" font-size="10.65" font-weight="bold">Carbohydrate</text>
<text x="7.0" y="71.04" font-size="10.65" font-weight="bold">Energy</text>
<text x="7.0" y="635.76" font-size="10.65" font-weight="bold">Lipid</text>
<text x="7.0" y="657.48" font-size="10.65" font-weight="bold">Nucleotide</text>
<text x="7.0" y="700.92" font-size="10.65" font-weight="bold">Xenobiotics</text>
<text x="377.20" y="10.8" text-anchor="middle" font-size="14.2" font-weight="bold">Men</text>
<text x="535.20" y="11.1" text-anchor="middle" font-size="14.2" font-weight="bold">Women</text>
<text transform="translate(336.25,710.08) rotate(-90)" text-anchor="end" font-size="12.4" font-weight="bold">AD</text>
<text transform="translate(367.35,710.08) rotate(-90)" text-anchor="end" font-size="12.4" font-weight="bold">TT</text>
<text transform="translate(398.45,710.08) rotate(-90)" text-anchor="end" font-size="12.4" font-weight="bold">DHEAS</text>
<text transform="translate(429.55,710.08) rotate(-90)" text-anchor="end" font-size="12.4" font-weight="bold">SHBG</text>
<text transform="translate(491.75,710.08) rotate(-90)" text-anchor="end" font-size="12.4" font-weight="bold">AD</text>
<text transform="translate(522.85,710.08) rotate(-90)" text-anchor="end" font-size="12.4" font-weight="bold">TT</text>
<text transform="translate(553.95,710.08) rotate(-90)" text-anchor="end" font-size="12.4" font-weight="bold">DHEAS</text>
<text transform="translate(585.05,710.08) rotate(-90)" text-anchor="end" font-size="12.4" font-weight="bold">SHBG</text>
<defs><linearGradient id="cb" gradientUnits="userSpaceOnUse" x1="0" y1="178.60" x2="0" y2="433.40">
<stop offset="0.0000" stop-color="#8b3626"/>
<stop offset="0.0108" stop-color="#8d3727"/>
<stop offset="0.0334" stop-color="#973b29"/>
<stop offset="0.0559" stop-color="#a13e2c"/>
<stop offset="0.0785" stop-color="#ab422f"/>
<stop offset="0.1015" stop-color="#b54632"/>
<stop offset="0.1260" stop-color="#be4a35"/>
<stop offset="0.1505" stop-color="#c84e37"/>
<stop offset="0.1750" stop-color="#d2513a"/>
<stop offset="0.1997" stop-color="#dc553d"/>
<stop offset="0.2248" stop-color="#e65940"/>
<stop offset="0.2499" stop-color="#ee5f46"/>
<stop offset="0.2750" stop-color="#f07059"/>
<stop offset="0.3001" stop-color="#f2806c"/>
<stop offset="0.3250" stop-color="#f3907e"/>
<stop offset="0.3500" stop-color="#f5a091"/>
<stop offset="0.3749" stop-color="#f7b1a4"/>
<stop offset="0.3999" stop-color="#f9c1b7"/>
<stop offset="0.4250" stop-color="#fad1ca"/>
<stop offset="0.4502" stop-color="#fce2dd"/>
<stop offset="0.4754" stop-color="#fef2f0"/>
<stop offset="0.5004" stop-color="#fafdff"/>
<stop offset="0.5252" stop-color="#e4f0fd"/>
<stop offset="0.5500" stop-color="#cde4fb"/>
<stop offset="0.5748" stop-color="#b6d8fa"/>
<stop offset="0.5996" stop-color="#a0ccf8"/>
<stop offset="0.6247" stop-color="#89c0f6"/>
<stop offset="0.6498" stop-color="#72b4f4"/>
<stop offset="0.6750" stop-color="#5ca8f3"/>
<stop offset="0.7000" stop-color="#459cf1"/>
<stop offset="0.7250" stop-color="#2e90ef"/>
<stop offset="0.7499" stop-color="#1c85ec"/>
<stop offset="0.7748" stop-color="#1b7fe2"/>
<stop offset="0.7997" stop-color="#197ad8"/>
<stop offset="0.8244" stop-color="#1874ce"/>
<stop offset="0.8491" stop-color="#176ec4"/>
<stop offset="0.8739" stop-color="#1669bb"/>
<stop offset="0.8986" stop-color="#1563b1"/>
<stop offset="0.9237" stop-color="#135ea7"/>
<stop offset="0.9487" stop-color="#12589d"/>
<stop offset="0.9737" stop-color="#115293"/>
<stop offset="0.9986" stop-color="#104e8b"/>
</linearGradient></defs>
<rect x="618.2" y="178.60" width="14" height="254.80" fill="url(#cb)" stroke="#333" stroke-width="0.9"/>
<line x1="632.20" y1="431.80" x2="636.70" y2="431.80" stroke="#444" stroke-width="1.1"/>
<text x="642.40" y="435.80" font-size="11">5</text>
<line x1="632.20" y1="406.30" x2="636.70" y2="406.30" stroke="#444" stroke-width="1.1"/>
<text x="642.40" y="410.30" font-size="11">4</text>
<line x1="632.20" y1="381.10" x2="636.70" y2="381.10" stroke="#444" stroke-width="1.1"/>
<text x="642.40" y="385.10" font-size="11">3</text>
<line x1="632.20" y1="355.70" x2="636.70" y2="355.70" stroke="#444" stroke-width="1.1"/>
<text x="642.40" y="359.70" font-size="11">2</text>
<line x1="632.20" y1="330.10" x2="636.70" y2="330.10" stroke="#444" stroke-width="1.1"/>
<text x="642.40" y="334.10" font-size="11">1</text>
<line x1="632.20" y1="304.85" x2="636.70" y2="304.85" stroke="#444" stroke-width="1.1"/>
<text x="642.40" y="308.85" font-size="11">0</text>
<line x1="632.20" y1="279.20" x2="636.70" y2="279.20" stroke="#444" stroke-width="1.1"/>
<text x="642.40" y="283.20" font-size="11">1</text>
<line x1="632.20" y1="253.80" x2="636.70" y2="253.80" stroke="#444" stroke-width="1.1"/>
<text x="642.40" y="257.80" font-size="11">2</text>
<line x1="632.20" y1="228.20" x2="636.70" y2="228.20" stroke="#444" stroke-width="1.1"/>
<text x="642.40" y="232.20" font-size="11">3</text>
<line x1="632.20" y1="203.20" x2="636.70" y2="203.20" stroke="#444" stroke-width="1.1"/>
<text x="642.40" y="207.20" font-size="11">4</text>
<line x1="632.20" y1="180.20" x2="636.70" y2="180.20" stroke="#444" stroke-width="1.1"/>
<text x="642.40" y="184.20" font-size="11">5</text>
<text transform="translate(663.60,215.50) rotate(90)" text-anchor="middle" font-size="12">β &gt; 0</text>
<text transform="translate(663.60,396.50) rotate(90)" text-anchor="middle" font-size="12">β &lt; 0</text>
<text transform="translate(664.0,306.6) rotate(90)" text-anchor="middle" font-size="13.5">−log<tspan font-size="9.5" dy="3.2">10</tspan><tspan dy="-3.2">(FDR)</tspan></text>
<circle cx="625.4" cy="488.2" r="1.9" fill="#000"/>
<text transform="translate(620.6,496.0) rotate(90)" font-size="12.5">FDR &lt; 0.05</text>
</svg>
</body></html>
